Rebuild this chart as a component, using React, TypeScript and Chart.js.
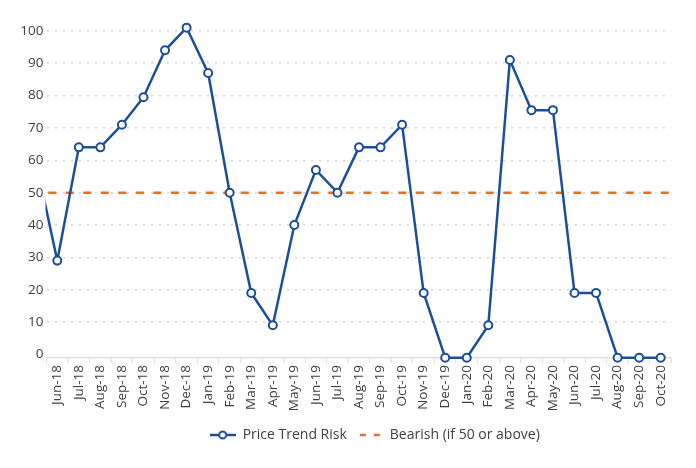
import { useEffect, useRef } from 'react'
import Chart from 'chart.js/auto'

// months; May-18 sits just left of the plot so the line runs in from the edge
const months = [
  'May-18', 'Jun-18', 'Jul-18', 'Aug-18', 'Sep-18', 'Oct-18', 'Nov-18', 'Dec-18',
  'Jan-19', 'Feb-19', 'Mar-19', 'Apr-19', 'May-19', 'Jun-19', 'Jul-19', 'Aug-19',
  'Sep-19', 'Oct-19', 'Nov-19', 'Dec-19', 'Jan-20', 'Feb-20', 'Mar-20', 'Apr-20',
  'May-20', 'Jun-20', 'Jul-20', 'Aug-20', 'Sep-20', 'Oct-20',
]
const priceTrendRisk = [
  60, 29, 64, 64, 71, 79.5, 94, 101,
  87, 50, 19, 9, 40, 57, 50, 64,
  64, 71, 19, -1, -1, 9, 91, 75.5,
  75.5, 19, 19, -1, -1, -1,
]
const bearishLevel = 50
const yTicks = [0, 10, 20, 30, 40, 50, 60, 70, 80, 90, 100]

const BLUE = '#1d4e98'
const ORANGE = '#f26b21'
const TEXT = '#404040'
const FONT = "'Open Sans', sans-serif"

function makeMarker(kind: 'line' | 'dash') {
  const c = document.createElement('canvas')
  c.width = 26
  c.height = 10
  const g = c.getContext('2d')!
  if (kind === 'line') {
    g.strokeStyle = BLUE
    g.lineWidth = 2.5
    g.beginPath()
    g.moveTo(0, 5)
    g.lineTo(26, 5)
    g.stroke()
    g.fillStyle = '#fff'
    g.lineWidth = 2
    g.beginPath()
    g.arc(13, 5, 3.5, 0, Math.PI * 2)
    g.fill()
    g.stroke()
  } else {
    g.strokeStyle = ORANGE
    g.lineWidth = 2.5
    g.setLineDash([6, 8])
    g.beginPath()
    g.moveTo(3, 5)
    g.lineTo(26, 5)
    g.stroke()
  }
  return c
}

// the legend sits a little right of centre in the original
const shiftLegend = {
  id: 'shiftLegend',
  afterLayout(chart: any) {
    if (chart.legend) chart.legend.left = 78
  },
}

// bearish threshold across the whole plot width
const thresholdLine = {
  id: 'thresholdLine',
  beforeDatasetsDraw(chart: any) {
    const { ctx, chartArea, scales } = chart
    const y = scales.y.getPixelForValue(bearishLevel)
    ctx.save()
    ctx.strokeStyle = ORANGE
    ctx.lineWidth = 2.5
    ctx.setLineDash([8, 9.5])
    ctx.lineDashOffset = 15.7
    ctx.beginPath()
    ctx.moveTo(chartArea.left, y)
    ctx.lineTo(chartArea.right, y)
    ctx.stroke()
    ctx.restore()
  },
}

export default function App() {
  const canvasRef = useRef<HTMLCanvasElement>(null)
  const chartRef = useRef<Chart | null>(null)

  useEffect(() => {
    document.body.style.margin = '0'
    if (!canvasRef.current) return
    if (chartRef.current) chartRef.current.destroy()

    const lineMarker = makeMarker('line')
    const dashMarker = makeMarker('dash')

    chartRef.current = new Chart(canvasRef.current, {
      type: 'line',
      plugins: [shiftLegend, thresholdLine],
      data: {
        labels: months,
        datasets: [
          {
            label: 'Price Trend Risk',
            data: priceTrendRisk,
            borderColor: BLUE,
            borderWidth: 2.5,
            tension: 0,
            pointRadius: 4,
            pointBorderWidth: 2,
            pointBackgroundColor: '#fff',
            pointBorderColor: BLUE,
            clip: { left: 1, right: 1, top: false, bottom: false } as any,
          },
        ],
      },
      options: {
        responsive: false,
        animation: false,
        layout: { padding: { top: 27, right: 24.5, left: 0, bottom: 16 } },
        plugins: {
          tooltip: { enabled: false },
          legend: {
            position: 'bottom',
            labels: {
              usePointStyle: true,
              pointStyleWidth: 26,
              padding: 10,
              color: TEXT,
              font: { family: FONT, size: 14 },
              generateLabels: () => [
                { text: 'Price Trend Risk', pointStyle: lineMarker, fillStyle: BLUE, strokeStyle: BLUE, lineWidth: 0, hidden: false, datasetIndex: 0, fontColor: TEXT },
                { text: 'Bearish (if 50 or above)', pointStyle: dashMarker, fillStyle: ORANGE, strokeStyle: ORANGE, lineWidth: 0, hidden: false, fontColor: TEXT },
              ],
            },
          },
        },
        scales: {
          x: {
            min: 'Jun-18',
            offset: true,
            grid: { offset: true, drawOnChartArea: false, color: '#e0e0e0', tickLength: 5 },
            border: { color: '#e0e0e0', width: 1.5 },
            ticks: {
              autoSkip: false,
              maxRotation: 90,
              minRotation: 90,
              padding: 2,
              color: TEXT,
              font: { family: FONT, size: 13.5 },
            },
            afterFit: (scale: any) => { scale.height = 60 },
          },
          y: {
            min: -1.1,
            max: 101.2,
            afterBuildTicks: (scale: any) => { scale.ticks = yTicks.map(v => ({ value: v })) },
            afterFit: (scale: any) => { scale.width = 46.5 },
            border: { display: false, dash: [2, 6] },
            grid: {
              drawTicks: false,
              lineWidth: 1.5,
              color: (ctx: any) => (ctx.tick && ctx.tick.value === 0 ? 'rgba(0,0,0,0)' : '#d4d4d4'),
            },
            ticks: {
              padding: 3,
              color: TEXT,
              font: { family: FONT, size: 13.5 },
            },
          },
        },
      },
    })

    return () => {
      if (chartRef.current) {
        chartRef.current.destroy()
        chartRef.current = null
      }
    }
  }, [])

  return <canvas ref={canvasRef} width={696} height={468} />
}
